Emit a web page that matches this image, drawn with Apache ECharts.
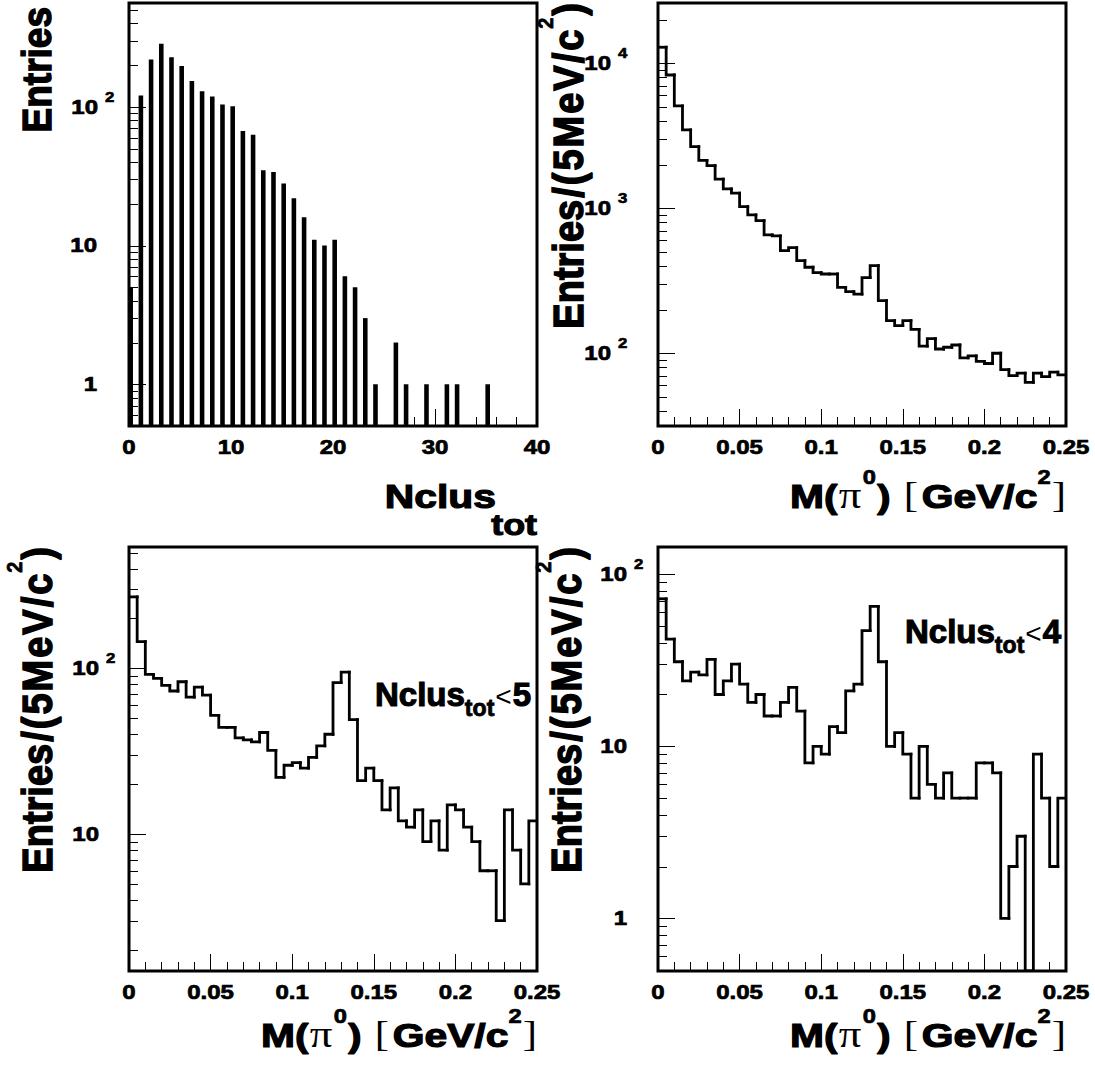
<!DOCTYPE html>
<html><head><meta charset="utf-8">
<script src="https://cdn.jsdelivr.net/npm/echarts@6/dist/echarts.min.js"></script>
<style>html,body{margin:0;padding:0;background:#fff}#c{width:1095px;height:1074px}</style>
</head><body><div id="c"></div><script>
// ---------------- data ----------------
// Panel 1: number of clusters, entries per integer value
const nclusBins   = [0,1,2,3,4,5,6,7,8,9,10,11,12,13,14,15,16,17,18,19,20,21,22,23,24,25,26,27,28,29,30,31,32,33,34,35];
const nclusValues = [5,121,220,286,228,197,154,130,119,104,101,67,63,35,34,28,22,16,11,10,11,6,5,3,1,0,2,1,0,1,0,1,1,0,0,1];
const nclusTicks  = [0,10,20,30,40];
// Panels 2-4: M(pi0) histograms, 50 bins of 5 MeV from 0 to 0.25 GeV
const massBinWidth = 0.005;
const massAll = [12900,8300,5080,3470,2660,2140,1970,1590,1360,1270,1025,900,822,655,645,510,535,435,392,360,352,352,285,266,256,332,402,231,168,155,168,146,112,126,107,110,114,93,96,88,85,100,77,70,73,63,73,69,74,71];
const massNc5 = [270,145,92,87,79,73,83,67,77,69,52,44,44,38,37,36,41,32,22,26,27,25,29,34,40,82,95,49,21,25,21,14,19,12,11,14,9,12,8,15,14,11,9,6,6,3,14,8,5,12];
const massNc4 = [72,42,31,24,27,26,32,20,24,30,23,18,20,15,15,18,22,16,8,10,9,13,12,21,23,47,65,31,10,12,9,5,10,6,5,7,5,5,5,8,8,7,1,2,3,0,9,5,2,5];
const massTicks = [0,0.05,0.1,0.15,0.2,0.25];
const yLabels1 = [1,10,100];
const yLabels2 = [100,1000,10000];
const yLabels3 = [10,100];
const yLabels4 = [1,10,100];

// ---------------- layout ----------------
const FONT = '"Liberation Sans", Arial, Helvetica, sans-serif';
const SERIF = '"Liberation Serif", "Times New Roman", serif';
const K = 1.2;           // horizontal stretch of the reference's lettering
const panels = [
  {left:129, top:3,   width:408, height:423, xMin:0, xMax:40,   xInt:10,   yMin:0.5, yMax:562,   labGapPlain:32, labGapExp:31},
  {left:658, top:3,   width:408, height:423, xMin:0, xMax:0.25, xInt:0.05, yMin:31.5, yMax:26050, labGapPlain:32, labGapExp:47},
  {left:129, top:547, width:408, height:424, xMin:0, xMax:0.25, xInt:0.05, yMin:1.49, yMax:540,  labGapPlain:30, labGapExp:30},
  {left:658, top:547, width:408, height:424, xMin:0, xMax:0.25, xInt:0.05, yMin:0.494, yMax:144, labGapPlain:31, labGapExp:31}
];

const mctx = document.createElement('canvas').getContext('2d');
function fontStr(size, weight, family){ return (weight||'bold') + ' ' + size + 'px ' + (family||FONT); }
function tw(t, size, weight, family){ mctx.font = fontStr(size, weight, family); return mctx.measureText(t).width; }

function textEl(x, y, t, size, o){
  o = o || {};
  const w = o.weight || 'bold';
  const sw = (w === 'bold') ? (o.sw !== undefined ? o.sw : Math.max(0.6, size*0.035)) : 0;
  return {type:'text', x:x, y:y, rotation:o.rot||0, scaleX:o.sx||1, scaleY:o.sy||1, silent:true, z:50,
    style:{text:t, fontSize:size, fontWeight:w, fontFamily:o.family||FONT, fill:'#000',
      stroke: sw ? '#000' : null, lineWidth: sw,
      align:o.align||'left', textAlign:o.align||'left', verticalAlign:'middle', textVerticalAlign:'middle'}};
}
// horizontal run of pieces, right-aligned at xEnd (or starting at xStart) with given baseline
function hRun(pieces, xEnd, baseline, k, xStart){
  let total = 0;
  pieces.forEach(p => { p.w = tw(p.t, p.size, p.weight, p.family); total += (p.pre||0) + p.w; });
  let x = (xStart !== undefined) ? xStart : xEnd - total*k;
  const els = [];
  pieces.forEach(p => {
    x += (p.pre||0)*k;
    els.push(textEl(x, baseline - (p.rise||0) - 0.35*p.size, p.t, p.size, {sx:k, weight:p.weight, family:p.family}));
    x += p.w*k;
  });
  return els;
}
// vertical run (reading bottom to top), ending at yEnd, baseline at screen x = xBase
function vRun(pieces, xBase, yEnd, k){
  let total = 0;
  pieces.forEach(p => { p.w = tw(p.t, p.size, p.weight, p.family); total += (p.pre||0) + p.w; });
  const yStart = yEnd + total;
  let u = 0; const els = [];
  pieces.forEach(p => {
    u += (p.pre||0);
    els.push(textEl(xBase - ((p.rise||0) + 0.35*p.size)*k, yStart - u, p.t, p.size, {rot:Math.PI/2, sy:k, weight:p.weight, family:p.family}));
    u += p.w;
  });
  return els;
}
function yTitle(f, g){
  const p = [{t:'Entries', size:f}];
  for (const ch of '/(5MeV/c') p.push({t:ch, size:f, pre:g});
  p.push({t:'2', size:0.52*f, rise:0.7*f, pre:1});
  p.push({t:')', size:f, pre:g});
  return p;
}
function massTitle(f){
  return [
    {t:'M', size:f}, {t:'(', size:f}, {t:'\u03c0', size:f*1.1, weight:'normal', family:SERIF, pre:1},
    {t:'0', size:0.58*f, rise:0.7*f, pre:1}, {t:')', size:f, pre:1},
    {t:'[', size:f*1.05, weight:'normal', family:SERIF, pre:11}, {t:'GeV/c', size:f, pre:3},
    {t:'2', size:0.58*f, rise:0.7*f, pre:0}, {t:']', size:f*1.05, weight:'normal', family:SERIF, pre:1}
  ];
}
function nclusTitle(f){ return [{t:'Nclus', size:f}, {t:'tot', size:0.88*f, rise:-0.8*f, pre:-4}]; }
function cutLabel(f, n){ return [{t:'Nclus', size:f}, {t:'tot', size:0.7*f, rise:-0.3*f}, {t:'<', size:0.85*f, weight:'normal', pre:1}, {t:n, size:f, pre:1}]; }

// ---------------- series builders ----------------
function yTickValues(p){
  const out = [];
  for (let d = Math.floor(Math.log10(p.yMin)); d <= Math.ceil(Math.log10(p.yMax)); d++)
    for (let k = 1; k <= 9; k++){ const v = k*Math.pow(10, d); if (v >= p.yMin && v <= p.yMax) out.push([v, k === 1 ? 1 : 0]); }
  return out;
}
function yTickSeries(i){
  const p = panels[i];
  return {type:'custom', xAxisIndex:i, yAxisIndex:i, clip:false, silent:true, z:5, data:yTickValues(p),
    renderItem:(params, api) => {
      const c = api.coord([p.xMin, api.value(0)]);
      const len = api.value(1) ? 17 : 9;
      return {type:'line', shape:{x1:c[0], y1:Math.round(c[1])+0.5, x2:c[0]+len, y2:Math.round(c[1])+0.5}, style:{stroke:'#000', lineWidth:1}};
    }};
}
function yLabelSeries(i, vals){
  const p = panels[i];
  return {type:'custom', xAxisIndex:i, yAxisIndex:i, clip:false, silent:true, z:5, data:vals.map(v => [v]),
    renderItem:(params, api) => {
      const v = api.value(0);
      const c = api.coord([p.xMin, v]);
      if (v < 100) return textEl(c[0]-p.labGapPlain, c[1], String(v), 20, {sx:K, align:'right'});
      const e = Math.round(Math.log10(v));
      return {type:'group', children:[
        textEl(c[0]-p.labGapExp, c[1], '10', 20, {sx:K, align:'right'}),
        textEl(c[0]-p.labGapExp+7, c[1]-10, String(e), 14, {sx:K, align:'left'})
      ]};
    }};
}
function xLabelSeries(i, vals){
  const p = panels[i];
  return {type:'custom', xAxisIndex:i, yAxisIndex:i, clip:false, silent:true, z:5, data:vals.map(v => [v]),
    renderItem:(params, api) => {
      const c = api.coord([api.value(0), p.yMin]);
      return textEl(c[0], c[1]+21, String(api.value(0)), 20, {sx:K, align:'center'});
    }};
}
function histSeries(i, vals){
  const p = panels[i];
  const lo = v => Math.max(v, p.yMin);
  return {type:'custom', xAxisIndex:i, yAxisIndex:i, clip:true, silent:true, z:10,
    data: vals.map((v, j) => [j*massBinWidth, v, j]),
    renderItem:(params, api) => {
      const j = api.value(2), xl = api.value(0), xr = xl + massBinWidth;
      const v = lo(api.value(1));
      const prev = j > 0 ? lo(vals[j-1]) : v;
      return {type:'polyline', shape:{points:[api.coord([xl, prev]), api.coord([xl, v]), api.coord([xr, v])]},
        style:{stroke:'#000', lineWidth:2.8, fill:null, lineCap:'square', lineJoin:'miter'}};
    }};
}
function barSeries(i){
  const p = panels[i];
  return {type:'custom', xAxisIndex:i, yAxisIndex:i, clip:true, silent:true, z:10,
    data: nclusBins.map((n, j) => [n, nclusValues[j]]),
    renderItem:(params, api) => {
      const n = api.value(0), v = api.value(1);
      if (!(v > 0)) return null;
      const a = api.coord([n - 0.06, v]), b = api.coord([n + 0.39, p.yMin]);
      return {type:'rect', shape:{x:a[0], y:a[1], width:b[0]-a[0], height:b[1]-a[1]}, style:{fill:'#000'}};
    }};
}

// ---------------- option ----------------
const grids = [], xAxes = [], yAxes = [];
panels.forEach((p, i) => {
  grids.push({left:p.left, top:p.top, width:p.width, height:p.height, show:true, borderColor:'#000', borderWidth:3, backgroundColor:'rgba(0,0,0,0)', containLabel:false});
  xAxes.push({gridIndex:i, type:'value', min:p.xMin, max:p.xMax, interval:p.xInt,
    axisLine:{show:false}, axisLabel:{show:false}, splitLine:{show:false},
    axisTick:{show:true, inside:true, length:17, lineStyle:{color:'#000', width:1}},
    minorTick:{show:true, splitNumber:5, length:9, lineStyle:{color:'#000', width:1}}});
  yAxes.push({gridIndex:i, type:'log', logBase:10, min:p.yMin, max:p.yMax,
    axisLine:{show:false}, axisLabel:{show:false}, axisTick:{show:false}, splitLine:{show:false}});
});

const series = [
  barSeries(0), histSeries(1, massAll), histSeries(2, massNc5), histSeries(3, massNc4),
  yTickSeries(0), yTickSeries(1), yTickSeries(2), yTickSeries(3),
  yLabelSeries(0, yLabels1), yLabelSeries(1, yLabels2), yLabelSeries(2, yLabels3), yLabelSeries(3, yLabels4),
  xLabelSeries(0, nclusTicks), xLabelSeries(1, massTicks), xLabelSeries(2, massTicks), xLabelSeries(3, massTicks)
];

const YF = 38, YG = 2, YK = 1.12, XF = 34;
const graphicEls = [].concat(
  vRun([{t:'Entries', size:37}], panels[0].left-78, panels[0].top+4, YK),
  vRun(yTitle(YF, YG), panels[1].left-75, panels[1].top, YK),
  vRun(yTitle(YF, YG), panels[2].left-77, panels[2].top, YK),
  vRun(yTitle(YF, YG), panels[3].left-77, panels[3].top, YK),
  hRun(nclusTitle(XF), panels[0].left+panels[0].width, 508, K),
  hRun(massTitle(XF), panels[1].left+panels[1].width, 508, K),
  hRun(massTitle(XF), panels[2].left+panels[2].width, 1047, K),
  hRun(massTitle(XF), panels[3].left+panels[3].width, 1047, K),
  hRun(cutLabel(33, '5'), 0, 706, 1, 375),
  hRun(cutLabel(33, '4'), 0, 643, 1, 905)
);

const chart = echarts.init(document.getElementById('c'), null, {renderer:'svg'});
chart.setOption({animation:false, backgroundColor:'#fff', grid:grids, xAxis:xAxes, yAxis:yAxes, series:series,
  graphic:{elements:graphicEls}});
</script></body></html>
